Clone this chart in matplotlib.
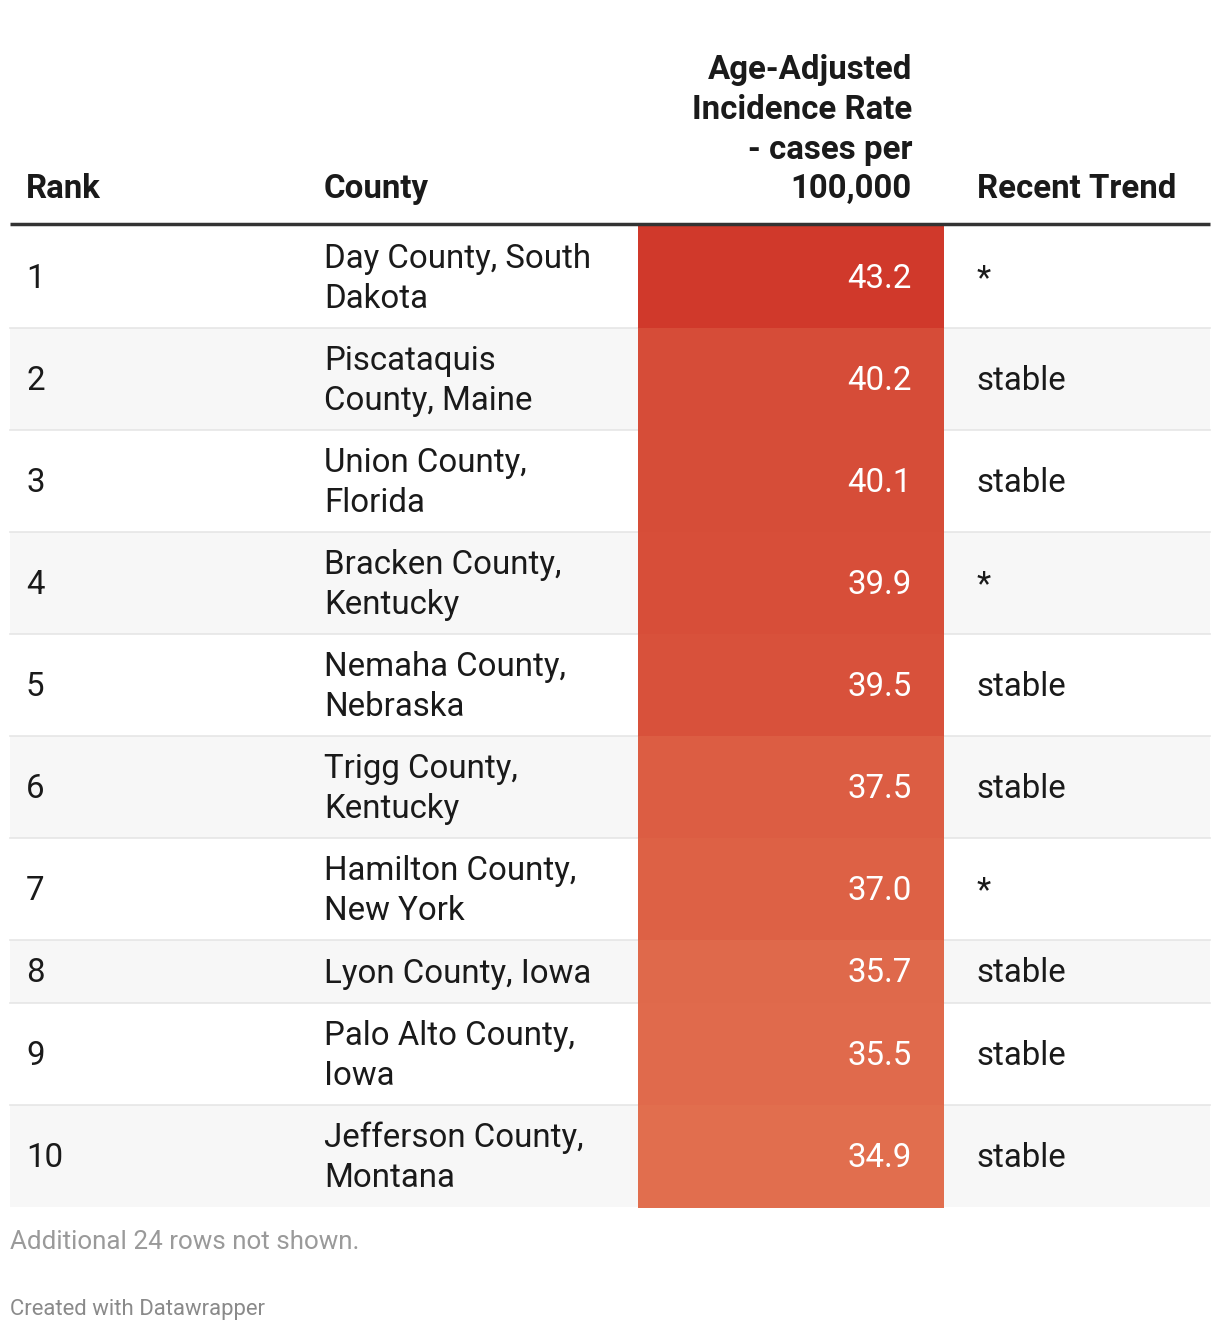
import textwrap
import numpy as np
import matplotlib.pyplot as plt
from matplotlib.colors import LinearSegmentedColormap, Normalize
from matplotlib.patches import Rectangle

plt.rcParams['font.family'] = ['Roboto', 'DejaVu Sans']

# -----------------------------
# DATA
# -----------------------------
ranks = [1, 2, 3, 4, 5, 6, 7, 8, 9, 10]
counties = [
    "Day County, South Dakota",
    "Piscataquis County, Maine",
    "Union County, Florida",
    "Bracken County, Kentucky",
    "Nemaha County, Nebraska",
    "Trigg County, Kentucky",
    "Hamilton County, New York",
    "Lyon County, Iowa",
    "Palo Alto County, Iowa",
    "Jefferson County, Montana",
]
rates = [43.2, 40.2, 40.1, 39.9, 39.5, 37.5, 37.0, 35.7, 35.5, 34.9]
trends = ["*", "stable", "stable", "*", "stable", "stable", "*", "stable", "stable", "stable"]

headers = ["Rank", "County", "Age-Adjusted\nIncidence Rate\n- cases per\n100,000", "Recent Trend"]
note = "Additional 24 rows not shown."
credit = "Created with Datawrapper"

# -----------------------------
# FIGURE (pixel coordinates)
# -----------------------------
W, H = 1220, 1332
fig = plt.figure(figsize=(W / 100, H / 100), dpi=100)
ax = fig.add_axes([0, 0, 1, 1])
ax.set_xlim(0, W)
ax.set_ylim(H, 0)
ax.axis('off')

left, right = 10, 1210
col_rank, col_county, col_trend = 26, 324, 977
cell_l, cell_r, val_x = 638, 944, 912
fs = 23.8
dark = '#1a1a1a'

cmap = LinearSegmentedColormap.from_list('reds', ['#e16e4e', '#d0392b'])
norm = Normalize(vmin=min(rates), vmax=max(rates))

# header
ax.text(col_rank, 198, headers[0], fontsize=fs, fontweight='bold', color=dark, va='baseline')
ax.text(col_county, 198, headers[1], fontsize=fs, fontweight='bold', color=dark, va='baseline')
ax.text(val_x, 198, headers[2], fontsize=fs, fontweight='bold', color=dark, va='baseline',
        ha='right', multialignment='right', linespacing=1.3)
ax.text(col_trend, 198, headers[3], fontsize=fs, fontweight='bold', color=dark, va='baseline')

# rows
y = 226
for i in range(len(ranks)):
    lines = textwrap.wrap(counties[i], width=17)
    h = 24 + 39 * len(lines)
    yc = y + h / 2
    bg = 'white' if i % 2 == 0 else '#f7f7f7'
    ax.add_patch(Rectangle((left, y), right - left, h, color=bg, lw=0, zorder=0))
    if i < len(ranks) - 1:
        ax.plot([left, right], [y + h, y + h], color='#e6e6e6', lw=1.2, zorder=1)
    ax.add_patch(Rectangle((cell_l, y), cell_r - cell_l, h + 1,
                           color=cmap(norm(rates[i])), lw=0, zorder=2))

    ax.text(col_rank, yc + 2, str(ranks[i]), fontsize=fs, color=dark, va='center', zorder=3)
    ax.text(col_county, yc + 2, "\n".join(lines), fontsize=fs, color=dark, va='center',
            linespacing=1.3, zorder=3)
    ax.text(val_x, yc + 2, f"{rates[i]:.1f}", fontsize=fs, color='white', va='center',
            ha='right', zorder=3)
    ax.text(col_trend, yc + 2, trends[i], fontsize=fs, color=dark, va='center', zorder=3)
    y += h

ax.plot([left, right], [224, 224], color='#333333', lw=2.5, zorder=4, solid_capstyle='butt')

# footer
ax.text(left, 1242, note, fontsize=18.7, color='#9a9a9a', va='center')
ax.text(left, 1309, credit, fontsize=15.9, color='#8a8a8a', va='center')

fig.savefig('out.png', dpi=100, facecolor='white')
